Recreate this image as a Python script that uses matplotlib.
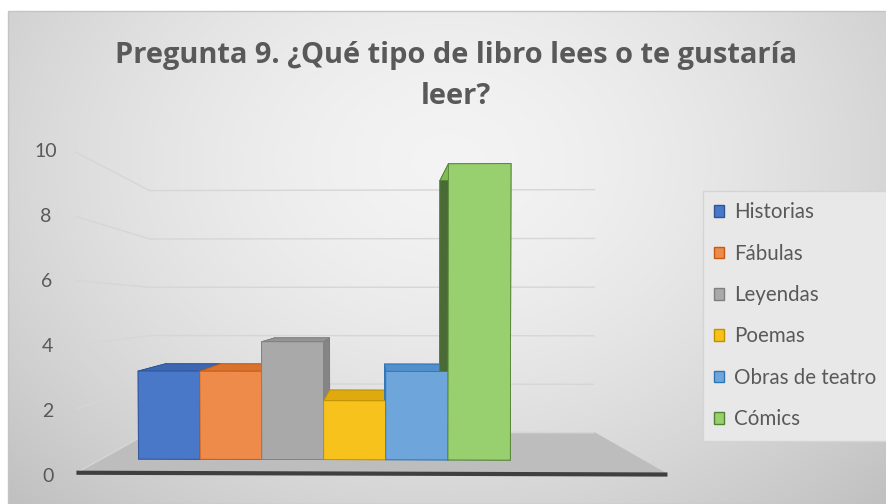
import numpy as np
import matplotlib
matplotlib.use('Agg')
import matplotlib.pyplot as plt
from matplotlib.patches import Patch, Rectangle

plt.rcParams['font.family'] = ['Lato', 'DejaVu Sans']
plt.rcParams['grid.color'] = '#d6d6d6'
plt.rcParams['grid.linewidth'] = 1.0

# datos
categorias = ['Historias', 'Fábulas', 'Leyendas', 'Poemas', 'Obras de teatro', 'Cómics']
valores = [3, 3, 4, 2, 3, 10]
ticks_valor = [0, 2, 4, 6, 8, 10]
titulo_1 = 'Pregunta 9. ¿Qué tipo de libro lees o te gustaría'
titulo_2 = 'leer?'

# colores por serie: frente, techo, lados, borde
col_frente = ['#4a78c8', '#ee8a4a', '#a9a9a9', '#f7c21c', '#6ea6dc', '#98d070']
col_techo = ['#3d67b3', '#d8722f', '#959595', '#dfaa10', '#5290cc', '#80bb58']
col_lado = ['#38609f', '#c96a2b', '#858585', '#d0a010', '#4b84bf', '#4a6b36']
col_borde = ['#2f5597', '#c55a11', '#7f7f7f', '#bf9000', '#2e75b6', '#548235']
gris_texto = '#595959'

# geometria del grafico 3D (unidades del eje de valores)
ANCHO_PISO = 18.36
FONDO = 4.9
INICIO = 1.27
ANCHO_BARRA = 2.105
Y_BARRA = 1.35
FONDO_BARRA = 2.1

W, H = 887, 504
fig = plt.figure(figsize=(W / 100, H / 100), dpi=100)

# fondo con degradado radial
bg = fig.add_axes([8 / W, 0, (W - 8) / W, (H - 11) / H])
hh, ww = H - 11, W - 8
yy, xx = np.mgrid[0:hh, 0:ww]
r = np.sqrt(((xx - 440) / 560.0) ** 2 + ((yy - 150) / 430.0) ** 2)
g = 0.955 - 0.17 * np.clip(r, 0, 1.3) ** 1.6
bg.imshow(np.dstack([g, g, g]), aspect='auto', extent=(0, 1, 0, 1), origin='upper')
bg.axis('off')
fig.patches.append(Rectangle((8 / W, 0), (W - 8) / W, (H - 11) / H, transform=fig.transFigure,
                             fill=False, edgecolor='#c4c4c4', linewidth=1.0))

# ejes 3D con perspectiva
S = 900
cx, cy = 371, H - 312
ax = fig.add_axes([(cx - 0.5135 * S) / W, (cy - 0.5135 * S) / H, S / W, S / H], projection='3d')
ax.set_proj_type('persp', focal_length=0.09757)
ax.view_init(elev=0.5, azim=-89.5)
ax.set_box_aspect((ANCHO_PISO, FONDO, 10), zoom=0.641)
ax.set_facecolor((1, 1, 1, 0))
ax.patch.set_alpha(0)

n = len(valores)
xs = INICIO + ANCHO_BARRA * np.arange(n)
caras = []
bordes = []
for i in range(n):
    # orden de caras de bar3d: -z, +z, -y, +y, -x, +x
    caras += [col_lado[i], col_techo[i], col_frente[i], col_lado[i], col_lado[i], col_lado[i]]
    bordes += [col_borde[i]] * 6
ax.bar3d(xs, np.full(n, Y_BARRA), np.zeros(n), ANCHO_BARRA, FONDO_BARRA, valores,
         color=caras, edgecolor=bordes, linewidth=0.6, shade=False)

# borde frontal del piso
ax.plot([0, ANCHO_PISO], [0, 0], [0, 0], color='#3f3f3f', linewidth=3, solid_capstyle='butt')

ax.set_xlim(0, ANCHO_PISO)
ax.set_ylim(0, FONDO)
ax.set_zlim(0, 10)
ax.set_xticks([])
ax.set_yticks([])
ax.set_zticks(ticks_valor)
ax.zaxis.set_ticks_position('lower')
ax.tick_params(axis='z', labelsize=14, colors=gris_texto, pad=6)
for lab in ax.zaxis.get_majorticklabels():
    lab.set_verticalalignment('center_baseline')
for eje in (ax.xaxis, ax.yaxis, ax.zaxis):
    eje.line.set_color((0, 0, 0, 0))
    eje._axinfo['tick']['inward_factor'] = 0
    eje._axinfo['tick']['outward_factor'] = 0
ax.xaxis.set_pane_color((1, 1, 1, 0))
ax.yaxis.set_pane_color((1, 1, 1, 0))
ax.zaxis.set_pane_color('#bdbdbd')

# titulo
fig.text(456 / W, 1 - 62.5 / H, titulo_1, ha='center', va='baseline', fontsize=20.9,
         fontweight='bold', color=gris_texto, family='Open Sans')
fig.text(456 / W, 1 - 104 / H, titulo_2, ha='center', va='baseline', fontsize=20.9,
         fontweight='bold', color=gris_texto, family='Open Sans')

# leyenda
manijas = [Patch(facecolor=col_frente[i], edgecolor=col_borde[i], label=categorias[i]) for i in range(n)]
fig.legend(handles=manijas, loc='upper left', bbox_to_anchor=(703 / W, 1 - 191 / H),
           borderaxespad=0, frameon=True, fancybox=False, facecolor='#e8e8e8',
           edgecolor='#d4d4d4', framealpha=1, fontsize=14.8, labelcolor=gris_texto,
           handlelength=0.49, handleheight=0.49, handletextpad=0.49,
           labelspacing=1.04, borderpad=0.55)

fig.savefig('out.png', dpi=100)
